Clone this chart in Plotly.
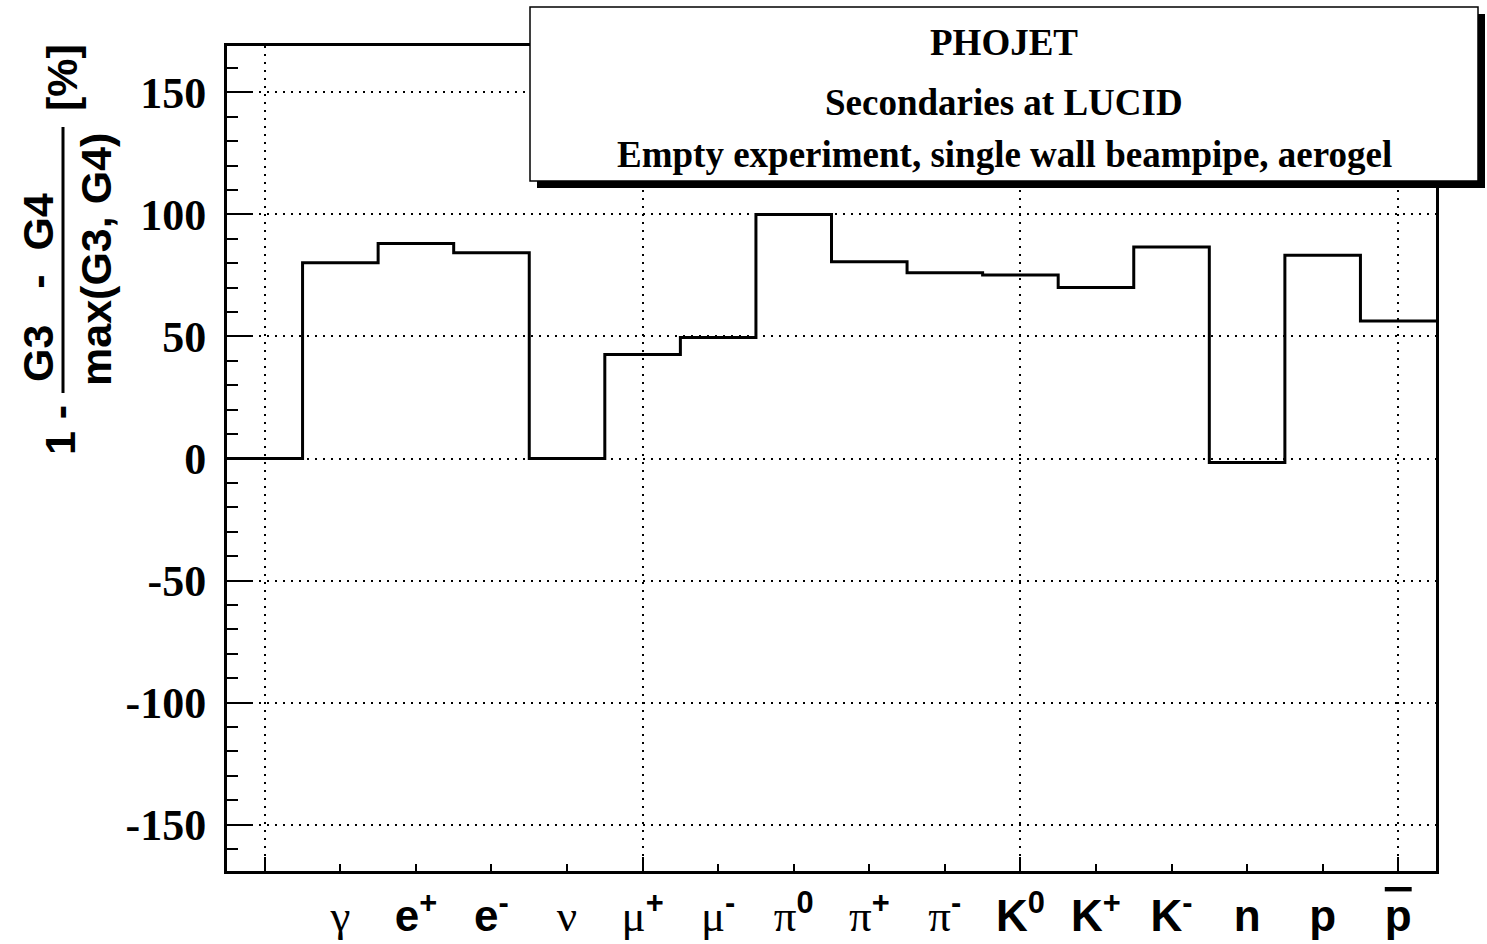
import plotly.graph_objects as go
import numpy as np

# bin index 0..15, first bin has no label
bin_index = list(range(16))
ratio_pct = [0, 80.2, 88.1, 84.3, 0, 42.6, 49.6, 100, 80.6, 76.1, 75.2, 70.1, 86.6, -1.6, 83.3, 56.3]

GREEK = "font-family:Liberation Serif;font-weight:normal;font-size:45px"
label_pos = list(range(1, 16))
label_text = [
    f'<span style="{GREEK}">γ</span>',
    "e<sup>+</sup>",
    "e<sup>-</sup>",
    f'<span style="{GREEK}">ν</span>',
    f'<span style="{GREEK}">μ</span><sup>+</sup>',
    f'<span style="{GREEK}">μ</span><sup>-</sup>',
    f'<span style="{GREEK}">π</span><sup>0</sup>',
    f'<span style="{GREEK}">π</span><sup>+</sup>',
    f'<span style="{GREEK}">π</span><sup>-</sup>',
    "K<sup>0</sup>",
    "K<sup>+</sup>",
    "K<sup>-</sup>",
    "n",
    "p",
    '<span style="text-decoration:overline">p</span>',
]

y_tick_vals = [-150, -100, -50, 0, 50, 100, 150]
y_tick_text = ["-150", "-100", "-50", "0", "50", "100", "150"]

title_lines = ["PHOJET", "Secondaries at LUCID", "Empty experiment, single wall beampipe, aerogel"]

W, H = 1487, 944
L, R, T, B = 227, 51, 46, 73
pw, ph = W - L - R, H - T - B


def px(x):
    return (x - L) / pw


def py(y):
    return (H - B - y) / ph


edges = np.array(bin_index + [bin_index[-1] + 1]) - 0.5
steps = ratio_pct + [ratio_pct[-1]]

fig = go.Figure()
fig.add_trace(go.Scatter(x=edges, y=steps, mode="lines", line_shape="hv",
                         line=dict(color="black", width=3), showlegend=False, hoverinfo="skip"))
fig.add_trace(go.Scatter(x=[], y=[], xaxis="x2", showlegend=False))

grid_dash = "2px,6px"
fig.update_layout(
    width=W, height=H,
    margin=dict(l=L, r=R, t=T, b=B, autoexpand=False),
    plot_bgcolor="white", paper_bgcolor="white",
    xaxis=dict(range=[-0.5, 15.5], tick0=0, dtick=5, ticks="inside", ticklen=14, tickwidth=2,
               tickcolor="black", showticklabels=False, showgrid=True, gridcolor="black",
               gridwidth=2, griddash=grid_dash, zeroline=False, showline=True, linewidth=3,
               linecolor="black", mirror=True, automargin=False,
               minor=dict(dtick=1, tick0=0, ticks="inside", ticklen=7, tickwidth=2,
                          tickcolor="black", showgrid=False)),
    xaxis2=dict(range=[-0.5, 15.5], overlaying="x", anchor="y", side="bottom",
                tickmode="array", tickvals=label_pos, ticktext=label_text, ticks="",
                showgrid=False, zeroline=False, showline=False, ticklabelstandoff=15,
                automargin=False,
                tickfont=dict(family="Liberation Sans", size=44, color="black", weight="bold")),
    yaxis=dict(range=[-169, 169], tickmode="array", tickvals=y_tick_vals, ticktext=y_tick_text,
               ticks="inside", ticklen=24, tickwidth=2,
               tickcolor="black", showgrid=True, gridcolor="black", gridwidth=2,
               griddash=grid_dash, zeroline=False, showline=True, linewidth=3,
               linecolor="black", mirror=True, ticklabelstandoff=9, automargin=False,
               tickfont=dict(family="Liberation Serif", size=44, color="black", weight="bold"),
               minor=dict(dtick=10, tick0=0, ticks="inside", ticklen=11, tickwidth=2,
                          tickcolor="black", showgrid=False)),
)

# title box with shadow
fig.add_shape(type="rect", xref="paper", yref="paper", layer="above",
              x0=px(537), x1=px(1485), y0=py(188), y1=py(14),
              fillcolor="black", line=dict(width=0))
fig.add_shape(type="rect", xref="paper", yref="paper", layer="above",
              x0=px(530), x1=px(1478), y0=py(181), y1=py(7),
              fillcolor="white", line=dict(color="black", width=1.5))
for txt, yc in zip(title_lines, [43, 102, 155]):
    fig.add_annotation(text=f"<b>{txt}</b>", xref="paper", yref="paper", x=px(1004), y=py(yc),
                       showarrow=False, xanchor="center", yanchor="middle",
                       font=dict(family="Liberation Serif", size=37, color="black"))

# y axis title: 1 - (G3 - G4)/max(G3, G4) [%]
ytitle_font = dict(family="Liberation Sans", size=43, color="black")
nb = "\u00a0"
ytitle_parts = [
    ("<b>1 -</b>", 60, 430),
    (f"<b>G3{nb*3}-{nb*2}G4</b>", 38, 288),
    ("<b>max(G3, G4)</b>", 96, 260),
    ("<b>[%]</b>", 62, 78),
]
for txt, xc, yc in ytitle_parts:
    fig.add_annotation(text=txt, xref="paper", yref="paper", x=px(xc), y=py(yc),
                       xanchor="center", yanchor="middle",
                       textangle=-90, showarrow=False, font=ytitle_font)
fig.add_shape(type="line", xref="paper", yref="paper", x0=px(63), x1=px(63),
              y0=py(393), y1=py(127), line=dict(color="black", width=3))

fig.write_html("out.html", config={"displayModeBar": False},
               post_script="document.body.style.margin='0';")
